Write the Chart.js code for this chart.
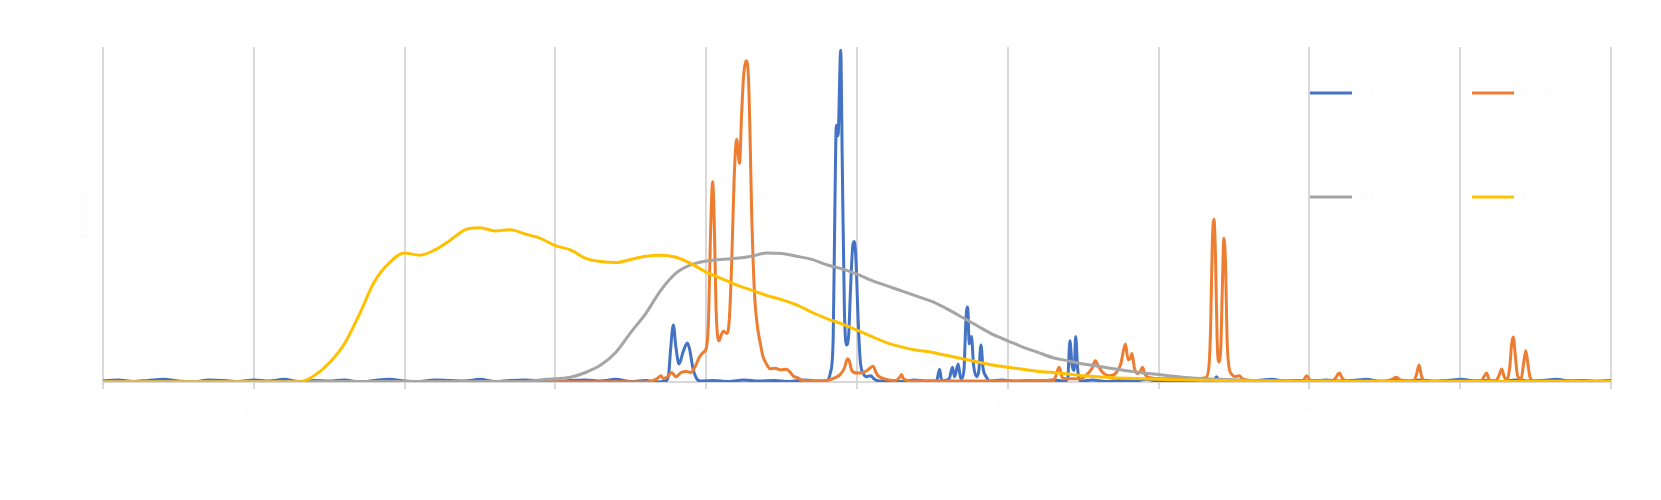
<!DOCTYPE html>
<html>
<head>
<meta charset="utf-8">
<script src="https://cdn.jsdelivr.net/npm/chart.js@4"></script>
<style>
  html, body { margin: 0; padding: 0; background: #ffffff; }
  #wrap { width: 1661px; height: 500px; }
</style>
</head>
<body>
<div id="wrap"><canvas id="c" width="1661" height="500"></canvas></div>
<script>
// ---- Data ----
const seriesNames = ["S1", "Series 2", "S3", "4"];
const seriesColors = ["#4472C4", "#ED7D31", "#A5A5A5", "#FFC000"];

const xTickStep = 100;
const xMin = 0, xMax = 1000;
const yMin = 0, yMax = 3170;

// smooth series share one x grid
const smoothX = [0,10,20,30,40,50,60,70,80,90,100,110,120,130,140,150,160,170,180,190,
  200,210,220,230,240,250,260,270,280,290,300,310,320,330,340,350,360,370,380,390,
  400,410,420,430,440,450,460,470,480,490,500,510,520,530,540,550,560,570,580,590,
  600,610,620,630,640,650,660,670,680,690,700,710,720,730,740,750,760,770,780,790,
  800,810,820,830,840,850,860,870,880,890,900,910,920,930,940,950,960,970,980,990,1000];

const yellowY = [0,0,0,0,0,0,0,0,0,0,0,0,0,0,
  60,180,360,640,950,1130,1220,1200,1250,1340,1440,1460,1430,1440,1400,1360,
  1290,1250,1170,1140,1130,1160,1190,1200,1180,1120,1040,980,920,870,820,780,
  730,660,600,550,490,430,370,330,300,280,250,220,190,160,140,120,100,90,75,60,
  50,40,35,30,25,22,20,17,15,12,10,8,6,
  5,5,5,5,5,5,5,5,5,5,5,5,5,5,5,5,5,5,5,5,5,5];

const grayY = [5,5,5,5,5,5,5,5,5,5,5,5,5,5,5,5,5,5,5,5,5,5,5,5,5,5,5,5,5,
  20,30,45,90,160,280,470,650,870,1030,1110,1145,1160,1170,1190,1220,1215,1190,
  1160,1110,1070,1020,960,910,860,810,760,690,610,530,450,390,330,280,230,200,
  170,150,125,105,85,70,55,40,30,25,20,15,12,10,8,5,
  5,5,5,5,5,5,5,5,5,5,5,5,5,5,5,5,5,5,5,5];

const blueX = [0,10,20,30,40,50,60,70,80,90,100,110,120,130,140,150,160,170,180,190,200,
  210,220,230,240,250,260,270,280,290,300,310,320,330,340,350,360,
  367,373,375,376.4,378.2,379.9,382,384.8,387.5,389,391.2,393.3,396,
  405,415,425,435,445,455,465,474,
  479.6,482.4,484.2,485.3,486.3,487.4,489.2,490.2,491.6,493,494.4,495.8,497.2,498.2,499.3,
  500.7,502.1,504.2,506.3,509.1,511.2,514.7,
  522,530,538,546,
  552.7,554.8,556.2,561.1,563.3,564.7,567.1,568.8,570.9,572.3,573.4,574.4,575.9,577.3,
  579.4,580.8,582.2,583.6,585.7,587.8,
  596,605,614,622,630,637.6,
  639.7,641.2,642.6,644,645,646.4,648.2,
  656,665,674,683,692,701,710,719,728,736.7,738.4,740.2,748,757,766,775,784,793,802,
  811,820,829,838,847,856,865,874,883,892,901,910,919,928,937,946,955,964,973,982,991,1000];
const blueY = [10,20,5,15,25,10,0,20,15,5,20,10,25,5,15,10,20,0,15,25,10,
  5,20,15,10,25,5,15,20,10,0,15,20,10,25,5,15,
  0,10,60,310,540,330,170,290,370,310,130,40,10,
  15,5,20,10,15,5,20,10,
  10,90,410,1610,2430,2330,3140,2110,710,350,430,910,1290,1330,1160,
  610,210,80,50,60,30,10,
  15,5,20,10,
  10,120,10,30,140,50,170,30,110,610,710,360,430,160,
  50,110,350,130,50,10,
  20,5,15,10,20,10,
  30,390,160,110,430,110,10,
  20,5,15,10,25,5,15,10,20,10,50,10,20,5,15,25,10,15,5,
  20,10,15,25,5,15,10,20,5,15,25,10,15,5,20,10,15,25,10,15,5,15];

const orangeX = [0,40,80,120,160,200,240,280,320,340,360.3,
  367.3,370.1,371.5,374.3,377.1,379.9,383.4,386.9,389.7,392.5,395.3,398.1,400.2,401.6,
  402.7,404.3,405.5,406.5,408.5,410.1,411.3,413.9,415.4,416.9,418.5,420.2,422.1,423.5,
  424.9,426.5,428.1,429.1,430.2,431.2,432.4,434.1,435.8,437.5,440.2,442.4,445.9,449.4,
  453.4,455.8,457.9,460.7,464.2,472.6,479.6,485.3,488.8,491.6,493.7,495.1,496.5,499.8,
  504.2,507.7,510.7,512.6,514.2,518.3,525.3,528.1,529.5,530.9,535.8,560,590,620,
  630.6,634.1,636.2,641.2,648.2,652.4,655.9,658,660.1,662.9,667.8,672,674.9,676.6,678,
  679.8,681.2,682.3,684,686.1,688.2,689.3,691,694.5,700.8,711.4,725.4,731,733.1,734.5,
  735.6,736.7,737.7,738.8,739.8,741.2,742.3,743.3,744.4,745.4,746.5,748.6,750.7,753.5,
  755.6,760.5,774.6,795.6,798.1,800.6,815.3,817.5,819.8,822,825.2,851.9,855.4,857.8,
  860.3,868.7,870.8,872.7,874.3,876.4,913.7,915.8,917.5,919.3,923.5,925.7,927.5,929.2,
  931.2,933,934.1,935.2,936.5,938,940.4,941.9,943.5,945,946.4,948.9,1000];
const orangeY = [3,3,3,3,3,3,3,3,3,3,0,
  30,60,30,50,90,50,90,100,90,140,230,280,330,610,
  1310,1895,1410,710,390,450,480,460,610,1130,1910,2295,2070,2545,
  2910,3040,2855,2310,1565,1110,750,510,370,250,165,125,130,115,
  120,90,55,40,15,10,15,40,70,130,220,190,110,85,
  90,120,150,90,55,30,15,40,70,30,10,10,10,15,
  20,140,40,30,30,70,130,200,150,90,60,90,170,290,360,
  210,220,270,130,80,110,140,70,40,30,30,30,40,110,510,
  1310,1540,1210,410,190,310,910,1360,1110,410,160,70,50,60,
  30,15,10,10,60,15,15,40,86,30,10,10,30,45,
  20,10,60,160,60,10,10,50,86,20,10,60,123,50,
  20,160,360,426,260,60,30,160,296,160,40,10,10];

function pairs(xs, ys) { return xs.map((x, i) => ({ x: x, y: ys[i] })); }

const faint = '#fbfbfb';

const legendPlugin = {
  id: 'overlayLegend',
  afterDraw(chart) {
    const ctx = chart.ctx;
    const ca = chart.chartArea;
    const cols = [ca.right - 301, ca.right - 139];
    const rows = [ca.top + 46, ca.top + 150];
    const order = [[0,0],[1,0],[0,1],[1,1]];
    ctx.save();
    order.forEach((cr, i) => {
      const x = cols[cr[0]], y = rows[cr[1]];
      ctx.strokeStyle = seriesColors[i];
      ctx.lineWidth = 3;
      ctx.beginPath();
      ctx.moveTo(x, y);
      ctx.lineTo(x + 42, y);
      ctx.stroke();
      ctx.fillStyle = faint;
      ctx.font = '13px "Liberation Sans", Arial, sans-serif';
      ctx.textBaseline = 'middle';
      ctx.fillText(seriesNames[i], x + 48, y + 1);
    });
    ctx.restore();
  }
};

const datasets = [
  { label: seriesNames[0], data: pairs(blueX, blueY), borderColor: seriesColors[0], order: 4 },
  { label: seriesNames[1], data: pairs(orangeX, orangeY), borderColor: seriesColors[1], order: 3 },
  { label: seriesNames[2], data: pairs(smoothX, grayY), borderColor: seriesColors[2], order: 2 },
  { label: seriesNames[3], data: pairs(smoothX, yellowY), borderColor: seriesColors[3], order: 1 }
].map(d => Object.assign(d, {
  borderWidth: 3, pointRadius: 0, fill: false,
  cubicInterpolationMode: 'monotone', borderCapStyle: 'round', borderJoinStyle: 'round'
}));

new Chart(document.getElementById('c'), {
  type: 'line',
  data: { datasets: datasets },
  plugins: [legendPlugin],
  options: {
    responsive: false,
    devicePixelRatio: 1,
    animation: false,
    layout: { padding: { left: 74, right: 50, top: 47, bottom: 0 } },
    plugins: { legend: { display: false }, tooltip: { enabled: false } },
    scales: {
      x: {
        type: 'linear', min: xMin, max: xMax,
        ticks: { stepSize: xTickStep, color: faint, padding: 12,
                 font: { size: 13, family: '"Liberation Sans", Arial, sans-serif' } },
        grid: { color: '#D9D9D9', lineWidth: 2, drawTicks: true, tickLength: 7, tickColor: '#D9D9D9' },
        border: { display: true, color: '#D9D9D9', width: 2 },
        title: { display: true, text: 'x', color: faint, padding: { top: 16 },
                 font: { size: 13, family: '"Liberation Sans", Arial, sans-serif' } },
        afterFit(scale) { scale.height = 118; }
      },
      y: {
        type: 'linear', min: yMin, max: yMax,
        ticks: { display: false },
        grid: { display: false },
        border: { display: false },
        title: { display: true, text: 'Intensity', color: faint,
                 font: { size: 13, family: '"Liberation Sans", Arial, sans-serif' } },
        afterFit(scale) { scale.width = 29; }
      }
    }
  }
});
</script>
</body>
</html>
